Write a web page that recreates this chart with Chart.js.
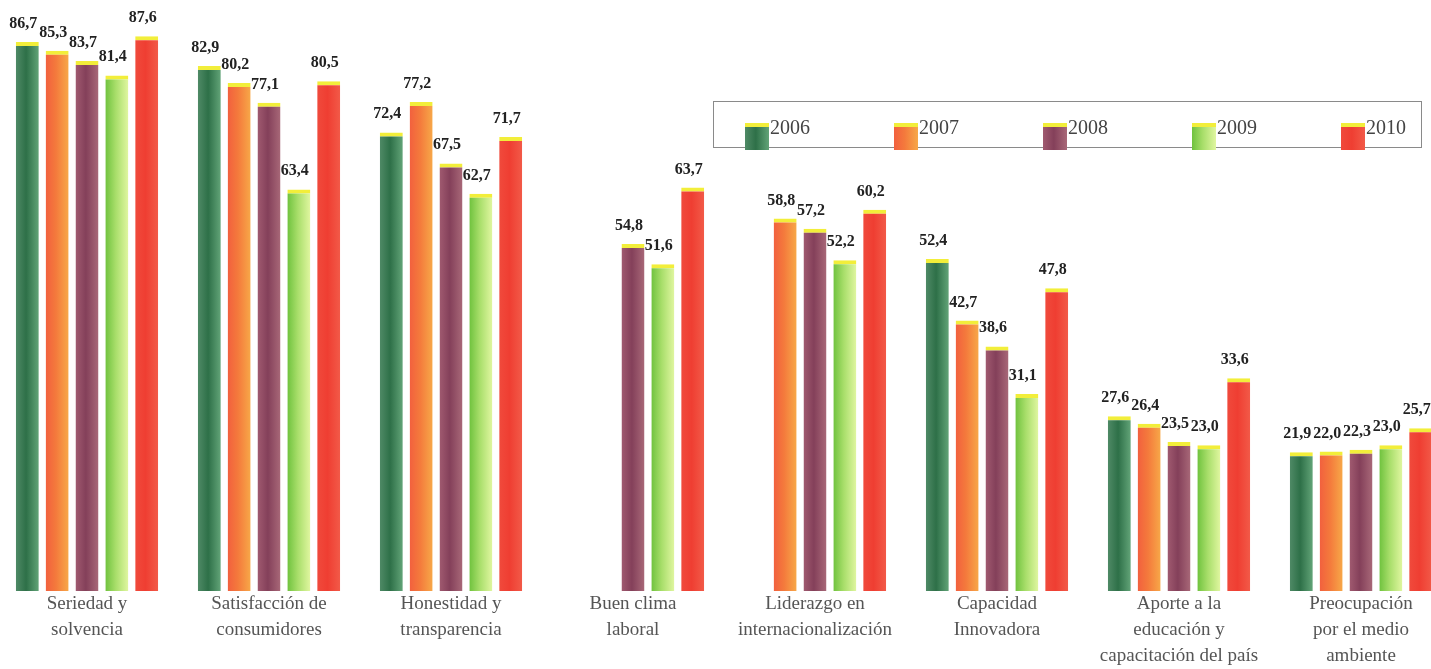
<!DOCTYPE html>
<html>
<head>
<meta charset="utf-8">
<script src="https://cdn.jsdelivr.net/npm/chart.js@4/dist/chart.umd.min.js"></script>
<style>
  html, body { margin: 0; padding: 0; background: #fff; overflow: hidden; }
  #wrap { position: absolute; left: -4px; top: 0; width: 1456px; height: 669px; }
</style>
</head>
<body>
<div id="wrap"><canvas id="mainChart"></canvas></div>
<script>
'use strict';

// Data
const categories = [
    ['Seriedad y', 'solvencia'],
    ['Satisfacción de', 'consumidores'],
    ['Honestidad y', 'transparencia'],
    ['Buen clima', 'laboral'],
    ['Liderazgo en', 'internacionalización'],
    ['Capacidad', 'Innovadora'],
    ['Aporte a la', 'educación y', 'capacitación del país'],
    ['Preocupación', 'por el medio', 'ambiente'],
];
const years = ['2006', '2007', '2008', '2009', '2010'];
const v2006 = [86.7, 82.9, 72.4, null, null, 52.4, 27.6, 21.9];
const v2007 = [85.3, 80.2, 77.2, null, 58.8, 42.7, 26.4, 22.0];
const v2008 = [83.7, 77.1, 67.5, 54.8, 57.2, 38.6, 23.5, 22.3];
const v2009 = [81.4, 63.4, 62.7, 51.6, 52.2, 31.1, 23.0, 23.0];
const v2010 = [87.6, 80.5, 71.7, 63.7, 60.2, 47.8, 33.6, 25.7];

// left -> middle -> right colour of each bar
const FILLS = [
    ['#4f8a66', '#2e7048', '#62a478'],
    ['#f2603e', '#f47a3c', '#f7a848'],
    ['#a05a70', '#84405a', '#a86878'],
    ['#6fc23e', '#a8de6a', '#e0f6a0'],
    ['#f04a3c', '#ef3e32', '#f25a48'],
];
const CAP = '#f2ee3a';
const CAT_PCT = 0.82;
const BAR_PCT = 0.77;
const SHIFT = 4; // canvas sits 4px left of the page

function gradientAt(ctx, left, right, stops) {
    const g = ctx.createLinearGradient(left, 0, right, 0);
    g.addColorStop(0, stops[0]);
    g.addColorStop(0.45, stops[1]);
    g.addColorStop(1, stops[2]);
    return g;
}

function barFill(c) {
    const stops = FILLS[c.datasetIndex];
    const chart = c.chart;
    const x = chart.scales && chart.scales.x;
    if (c.type !== 'data' || !x || !chart.chartArea) return stops[1];
    const catW = x.width / categories.length;
    const group = catW * CAT_PCT;
    const slot = group / years.length;
    const cx = x.getPixelForValue(c.dataIndex) - group / 2 + slot * (c.datasetIndex + 0.5);
    const half = slot * BAR_PCT / 2;
    return gradientAt(chart.ctx, cx - half, cx + half, stops);
}

const valueLabels = {
    id: 'valueLabels',
    afterDatasetsDraw(chart) {
        const ctx = chart.ctx;
        ctx.save();
        ctx.font = 'bold 16px "Liberation Serif", "Times New Roman", serif';
        ctx.fillStyle = '#222';
        ctx.textAlign = 'center';
        ctx.textBaseline = 'alphabetic';
        chart.data.datasets.forEach((ds, di) => {
            chart.getDatasetMeta(di).data.forEach((el, i) => {
                const v = ds.data[i];
                if (v == null) return;
                ctx.fillText(v.toFixed(1).replace('.', ','), el.x - 4, el.y - 14);
            });
        });
        ctx.restore();
    }
};

const boxLegend = {
    id: 'boxLegend',
    afterDraw(chart) {
        const ctx = chart.ctx;
        ctx.save();
        ctx.strokeStyle = '#8a8a8a';
        ctx.lineWidth = 1;
        ctx.strokeRect(713.5 + SHIFT, 101.5, 708, 46);
        ctx.font = '20px "Liberation Serif", "Times New Roman", serif';
        ctx.fillStyle = '#444';
        ctx.textAlign = 'left';
        ctx.textBaseline = 'alphabetic';
        chart.data.datasets.forEach((ds, di) => {
            const sx = 745 + di * 149 + SHIFT;
            ctx.fillStyle = gradientAt(ctx, sx, sx + 24, FILLS[di]);
            ctx.fillRect(sx, 123, 24, 27);
            ctx.fillStyle = CAP;
            ctx.fillRect(sx, 123, 24, 4);
            ctx.fillStyle = '#444';
            ctx.fillText(ds.label, sx + 25, 134);
        });
        ctx.restore();
    }
};

const series = [v2006, v2007, v2008, v2009, v2010];

new Chart(document.getElementById('mainChart').getContext('2d'), {
    type: 'bar',
    data: {
        labels: categories,
        datasets: years.map((y, i) => ({
            label: y,
            data: series[i],
            backgroundColor: barFill,
            borderColor: CAP,
            borderWidth: { top: 4, right: 0, bottom: 0, left: 0 },
            borderSkipped: 'start',
            categoryPercentage: CAT_PCT,
            barPercentage: BAR_PCT,
        })),
    },
    options: {
        responsive: true,
        maintainAspectRatio: false,
        animation: false,
        layout: { padding: { top: 21, left: 0, right: 0, bottom: 0 } },
        plugins: {
            legend: { display: false },
            tooltip: { enabled: false },
        },
        scales: {
            x: {
                grid: { display: false, drawTicks: false },
                border: { display: false },
                ticks: {
                    color: '#555',
                    font: { family: '"Liberation Serif", "Times New Roman", serif', size: 19, lineHeight: 1.37 },
                    padding: 0,
                    autoSkip: false,
                    maxRotation: 0,
                    minRotation: 0,
                },
            },
            y: {
                display: false,
                min: 0,
                max: 90,
            },
        },
    },
    plugins: [valueLabels, boxLegend],
});
</script>
</body>
</html>
